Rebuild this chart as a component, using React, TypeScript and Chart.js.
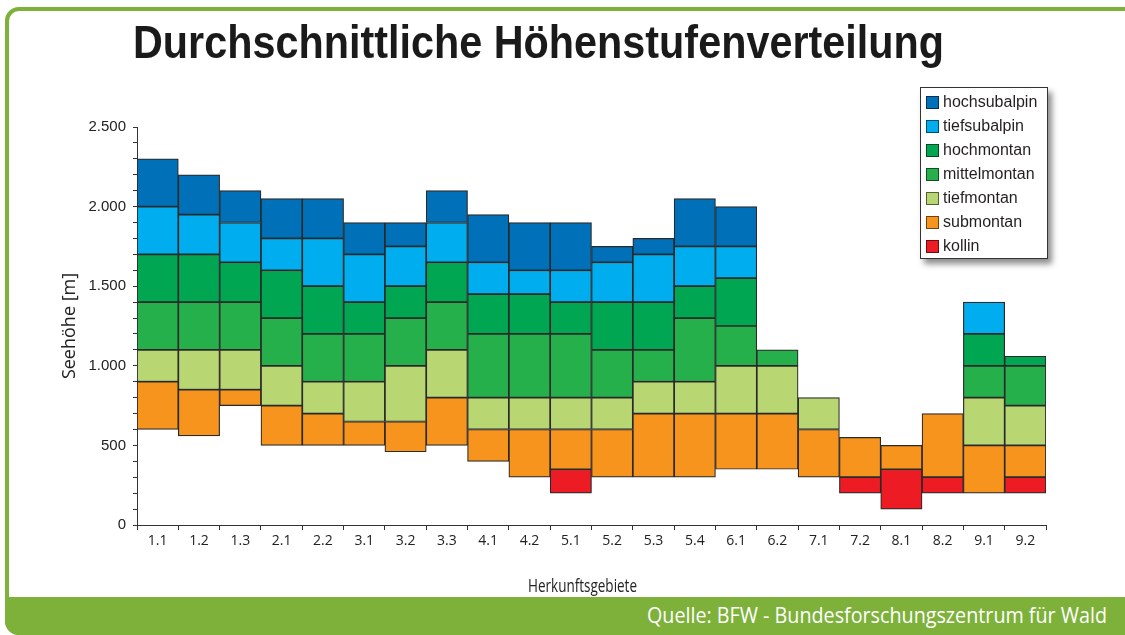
import React, { useEffect, useRef } from "react";
import { Chart, registerables } from "chart.js";

Chart.register(...registerables);

const categories = ["1.1", "1.2", "1.3", "2.1", "2.2", "3.1", "3.2", "3.3", "4.1", "4.2", "5.1", "5.2", "5.3", "5.4", "6.1", "6.2", "7.1", "7.2", "8.1", "8.2", "9.1", "9.2"];

type R = [number, number] | null;

// elevation ranges [from, to] in m per Herkunftsgebiet; null = zone absent
const kollin: R[] = [null, null, null, null, null, null, null, null, null, null, [200, 350], null, null, null, null, null, null, [200, 300], [100, 350], [200, 300], null, [200, 300]];
const submontan: R[] = [[600, 900], [560, 850], [750, 850], [500, 750], [500, 700], [500, 650], [460, 650], [500, 800], [400, 600], [300, 600], [350, 600], [300, 600], [300, 700], [300, 700], [350, 700], [350, 700], [300, 600], [300, 550], [350, 500], [300, 700], [200, 500], [300, 500]];
const tiefmontan: R[] = [[900, 1100], [850, 1100], [850, 1100], [750, 1000], [700, 900], [650, 900], [650, 1000], [800, 1100], [600, 800], [600, 800], [600, 800], [600, 800], [700, 900], [700, 900], [700, 1000], [700, 1000], [600, 800], null, null, null, [500, 800], [500, 750]];
const mittelmontan: R[] = [[1100, 1400], [1100, 1400], [1100, 1400], [1000, 1300], [900, 1200], [900, 1200], [1000, 1300], [1100, 1400], [800, 1200], [800, 1200], [800, 1200], [800, 1100], [900, 1100], [900, 1300], [1000, 1250], [1000, 1100], null, null, null, null, [800, 1000], [750, 1000]];
const hochmontan: R[] = [[1400, 1700], [1400, 1700], [1400, 1650], [1300, 1600], [1200, 1500], [1200, 1400], [1300, 1500], [1400, 1650], [1200, 1450], [1200, 1450], [1200, 1400], [1100, 1400], [1100, 1400], [1300, 1500], [1250, 1550], null, null, null, null, null, [1000, 1200], [1000, 1060]];
const tiefsubalpin: R[] = [[1700, 2000], [1700, 1950], [1650, 1900], [1600, 1800], [1500, 1800], [1400, 1700], [1500, 1750], [1650, 1900], [1450, 1650], [1450, 1600], [1400, 1600], [1400, 1650], [1400, 1700], [1500, 1750], [1550, 1750], null, null, null, null, null, [1200, 1400], null];
const hochsubalpin: R[] = [[2000, 2300], [1950, 2200], [1900, 2100], [1800, 2050], [1800, 2050], [1700, 1900], [1750, 1900], [1900, 2100], [1650, 1950], [1600, 1900], [1600, 1900], [1650, 1750], [1700, 1800], [1750, 2050], [1750, 2000], null, null, null, null, null, null, null];

const seriesNames = ["kollin", "submontan", "tiefmontan", "mittelmontan", "hochmontan", "tiefsubalpin", "hochsubalpin"];
const seriesData = [kollin, submontan, tiefmontan, mittelmontan, hochmontan, tiefsubalpin, hochsubalpin];
const seriesColors = ["#ed1c24", "#f7941d", "#b8d672", "#26b04b", "#00a651", "#00aeef", "#0070b8"];

const yTickLabels = ["0", "500", "1.000", "1.500", "2.000", "2.500"];

const titleText = "Durchschnittliche Höhenstufenverteilung";
const yTitle = "Seehöhe [m]";
const xTitle = "Herkunftsgebiete";
const sourceText = "Quelle: BFW - Bundesforschungszentrum für Wald";

const GREEN = "#7db13a";

function measure(text: string, font: string): number {
  const c = document.createElement("canvas").getContext("2d");
  if (!c) return 1;
  c.font = font;
  return c.measureText(text).width || 1;
}

function FitText(props: { text: string; left: number; top: number; width: number; font: string; color: string; z?: number }) {
  const { text, left, top, width, font, color, z } = props;
  const s = width / measure(text, font);
  return (
    <div
      style={{
        position: "absolute",
        left,
        top,
        whiteSpace: "nowrap",
        font,
        lineHeight: 1,
        color,
        transform: `scaleX(${s})`,
        transformOrigin: "left top",
        zIndex: z ?? 3,
      }}
    >
      {text}
    </div>
  );
}

export default function App() {
  const ref = useRef<HTMLCanvasElement | null>(null);

  useEffect(() => {
    if (!ref.current) return;
    const chart = new Chart(ref.current, {
      type: "bar",
      data: {
        labels: categories,
        datasets: seriesNames.map((name, i) => ({
          label: name,
          data: seriesData[i] as any,
          backgroundColor: seriesColors[i],
          borderColor: "#2a2a2a",
          borderWidth: 1.2,
          borderSkipped: false,
          grouped: false,
          barPercentage: 1,
          categoryPercentage: 1,
        })),
      },
      options: {
        animation: false,
        responsive: false,
        maintainAspectRatio: false,
        layout: { padding: { left: 55, right: 79, top: 127, bottom: 80 } },
        plugins: { legend: { display: false }, tooltip: { enabled: false }, title: { display: false } },
        scales: {
          x: {
            type: "category",
            grid: { display: true, drawOnChartArea: false, drawTicks: true, tickLength: 5, color: "#333", offset: true },
            border: { display: true, color: "#333", width: 1 },
            ticks: { font: { family: "Open Sans", size: 14 }, color: "#222", padding: 3, autoSkip: false, maxRotation: 0 },
            afterFit: (s: any) => {
              s.height = 30;
            },
          },
          y: {
            min: 0,
            max: 2500,
            grid: { drawOnChartArea: false, drawTicks: true, tickLength: 4, color: "#333" },
            border: { display: true, color: "#333", width: 1 },
            ticks: {
              stepSize: 100,
              autoSkip: false,
              padding: 7,
              font: { family: "Liberation Sans", size: 15 },
              color: "#222",
              callback: (v: any) => {
                const n = Math.round(Number(v));
                return n % 500 === 0 ? yTickLabels[n / 500] : "";
              },
            },
            title: { display: true, text: yTitle, font: { family: "Open Sans", size: 18 }, color: "#222", padding: { top: 4, bottom: 0 } },
            afterFit: (s: any) => {
              s.width = 82;
            },
          },
        },
      } as any,
    });
    return () => chart.destroy();
  }, []);

  const legendOrder = [...seriesNames.keys()].reverse();

  return (
    <div style={{ position: "absolute", left: 0, top: 0, width: 1125, height: 635, overflow: "hidden", background: "#fff" }}>
      <div
        style={{
          position: "absolute",
          left: 5,
          top: 7,
          width: 1140,
          height: 628,
          boxSizing: "border-box",
          border: `4px solid ${GREEN}`,
          borderRadius: 14,
          background: "#fff",
          overflow: "hidden",
        }}
      >
        <div style={{ position: "absolute", left: 0, right: 0, top: 586, bottom: 0, background: GREEN, zIndex: 4 }} />
      </div>
      <canvas ref={ref} width={1125} height={635} style={{ position: "absolute", left: 0, top: 0, zIndex: 1 }} />
      <FitText text={titleText} left={133} top={19} width={811} font="bold 46px 'Liberation Sans'" color="#1a1a1a" />
      <FitText text={xTitle} left={528} top={576} width={109} font="19px 'Open Sans'" color="#222" z={2} />
      <div style={{ position: "absolute", left: 5, top: 597, width: 1125, height: 38, background: GREEN, borderBottomLeftRadius: 14, zIndex: 3 }} />
      <FitText text={sourceText} left={647} top={603} width={460} font="22px 'Open Sans'" color="#fff" z={4} />
      <div
        style={{
          position: "absolute",
          left: 920,
          top: 87,
          width: 128,
          height: 172,
          boxSizing: "border-box",
          border: "1.5px solid #333",
          background: "#fff",
          boxShadow: "4px 5px 6px rgba(0,0,0,0.45)",
          zIndex: 5,
        }}
      >
        {legendOrder.map((i, k) => (
          <div key={seriesNames[i]} style={{ position: "absolute", left: 5, top: 6 + k * 24, height: 16, display: "flex", alignItems: "center" }}>
            <div style={{ width: 11, height: 11, background: seriesColors[i], border: "1px solid rgba(0,0,0,0.55)", marginRight: 4 }} />
            <span style={{ font: "16px 'Liberation Sans'", color: "#231f20", lineHeight: "16px" }}>{seriesNames[i]}</span>
          </div>
        ))}
      </div>
    </div>
  );
}
